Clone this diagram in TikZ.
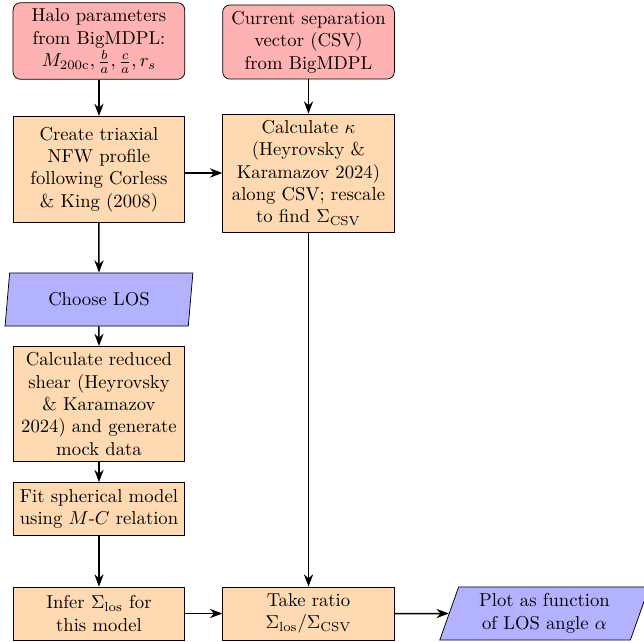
\documentclass[tikz,border=0pt]{standalone}
\usepackage{amsmath,amssymb}
\usepackage{tikz}
\usetikzlibrary{arrows.meta,calc,positioning,shapes.geometric}

\begin{document}
\begin{tikzpicture}[>=Stealth,
  termbox/.style={rectangle,rounded corners,text width=3cm,align=center,minimum height=1cm,draw=black,fill=red!30},
  procbox/.style={rectangle,text width=3cm,align=center,minimum height=1cm,draw=black,fill=orange!30},
  iobox/.style={trapezium,trapezium stretches body,text width=3cm,align=center,minimum height=1cm,draw=black,fill=blue!30},
  flow/.style={->,thick}]
\useasboundingbox (0,0) rectangle (12.128,-12.09);
\node[termbox] (halo) at (1.864,-0.772) {Halo parameters\\ from BigMDPL:\\ $M_{200\mathrm{c}},\frac{b}{a},\frac{c}{a},r_s$};
\node[termbox] (csv) at (5.81,-0.791) {Current separation\\ vector (CSV)\\ from BigMDPL};
\node[procbox,minimum height=2cm,anchor=north] (create) at (1.864,-2.185) {Create triaxial\\ NFW profile\\ following Corless\\ \& King (2008)};
\node[procbox] (calc) at (5.81,-3.258) {Calculate $\kappa$\\ (Heyrovsky \&\\ Karamazov 2024)\\ along CSV; rescale\\ to find $\Sigma_{\mathrm{CSV}}$};
\node[iobox,text width=3.13cm,trapezium left angle=80,trapezium right angle=100] (los) at (1.864,-5.64) {Choose LOS};
\node[procbox] (shear) at (1.864,-7.61) {Calculate reduced\\ shear (Heyrovsky\\ \& Karamazov\\ 2024) and generate\\ mock data};
\node[procbox] (fit) at (1.864,-9.586) {Fit spherical model\\ using $M$-$C$ relation};
\node[procbox] (infer) at (1.864,-11.554) {Infer $\Sigma_{\mathrm{los}}$ for\\ this model};
\node[procbox] (ratio) at (5.81,-11.554) {Take ratio\\ $\Sigma_{\mathrm{los}}/\Sigma_{\mathrm{CSV}}$};
\node[iobox,trapezium left angle=70,trapezium right angle=110] (plot) at (10.254,-11.554) {Plot as function\\ of LOS angle $\alpha$};
\draw[flow] (halo)--(create);
\draw[flow] (csv)--(calc);
\draw[flow] (create.east |- calc.west)--(calc.west);
\draw[flow] (create)--(los);
\draw[flow] (los)--(shear);
\draw[flow] (shear)--(fit);
\draw[flow] (fit)--(infer);
\draw[flow] (calc)--(ratio);
\draw[flow] (infer)--(ratio);
\draw[flow] (ratio)--(plot);
\end{tikzpicture}
\end{document}
